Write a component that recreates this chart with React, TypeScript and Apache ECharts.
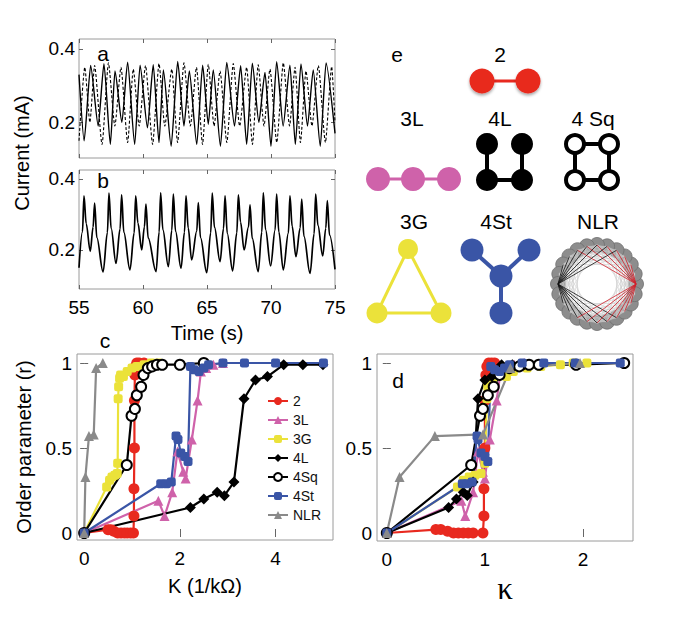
import React, { useEffect, useRef } from 'react';
import * as echarts from 'echarts';

const FONT = '"Liberation Sans", Arial, Helvetica, sans-serif';

// ---------- Panel a: two coupled oscillators (time s, current mA) ----------
const A_SOLID_T = [55.0, 55.4, 55.91, 56.5, 56.95, 57.45, 57.81, 58.35, 58.8, 59.35, 59.77, 60.35, 60.8, 61.25, 61.59, 62.2, 62.71, 63.2, 63.62, 64.2, 64.66, 65.1, 65.49, 66.05, 66.54, 67.15, 67.63, 68.1, 68.54, 69.05, 69.53, 70.0, 70.44, 70.95, 71.48, 71.9, 72.34, 72.85, 73.3, 73.85, 74.3, 75.0];
const A_SOLID_V = [0.33, 0.15, 0.355, 0.19, 0.36, 0.14, 0.34, 0.2, 0.364, 0.14, 0.356, 0.185, 0.357, 0.145, 0.343, 0.135, 0.366, 0.19, 0.34, 0.14, 0.356, 0.195, 0.343, 0.135, 0.363, 0.19, 0.354, 0.14, 0.361, 0.2, 0.336, 0.135, 0.365, 0.19, 0.356, 0.14, 0.359, 0.19, 0.343, 0.135, 0.362, 0.17];
const A_DASH_T = [55.0, 55.45, 55.85, 56.22, 56.8, 57.3, 57.8, 58.28, 58.8, 59.24, 59.7, 60.2, 60.75, 61.25, 61.7, 62.25, 62.7, 63.2, 63.7, 64.18, 64.65, 65.1, 65.55, 66.02, 66.55, 67.05, 67.55, 68.1, 68.55, 69.0, 69.45, 69.92, 70.45, 70.96, 71.45, 71.88, 72.3, 72.73, 73.2, 73.7, 74.25, 74.74, 75.0];
const A_DASH_V = [0.15, 0.35, 0.2, 0.355, 0.14, 0.362, 0.19, 0.35, 0.145, 0.345, 0.19, 0.355, 0.14, 0.36, 0.19, 0.345, 0.145, 0.362, 0.19, 0.35, 0.14, 0.358, 0.19, 0.34, 0.145, 0.36, 0.19, 0.35, 0.14, 0.357, 0.19, 0.345, 0.145, 0.362, 0.19, 0.35, 0.145, 0.34, 0.19, 0.355, 0.145, 0.352, 0.2];

// ---------- Panel b: single oscillator (trough, rising flank, peak, falling flank) ----------
const B_T = [55.0,
  55.27, 55.39, 55.56, 55.88, 56.10, 56.22, 56.39, 56.88, 57.22, 57.34, 57.51, 57.89,
  58.21, 58.33, 58.50, 58.98, 59.31, 59.43, 59.60, 59.9, 60.11, 60.23, 60.40, 61.02,
  61.26, 61.38, 61.55, 61.98, 62.25, 62.37, 62.54, 62.97, 63.24, 63.36, 63.53, 63.8,
  64.20, 64.32, 64.49, 64.98, 65.29, 65.41, 65.58, 66.02, 66.29, 66.41, 66.58, 67.0,
  67.33, 67.45, 67.62, 67.9, 68.24, 68.36, 68.53, 69.0, 69.28, 69.4, 69.57, 69.97,
  70.32, 70.44, 70.61, 70.96, 71.36, 71.48, 71.65, 71.95, 72.28, 72.4, 72.57, 73.05,
  73.37, 73.49, 73.66, 74.04, 74.28, 74.4, 74.57, 75.0];
const B_V = [0.15,
  0.251, 0.352, 0.274, 0.196, 0.264, 0.332, 0.235, 0.138, 0.249, 0.36, 0.261, 0.162,
  0.259, 0.355, 0.25, 0.144, 0.248, 0.352, 0.276, 0.2, 0.265, 0.329, 0.234, 0.139,
  0.25, 0.361, 0.257, 0.153, 0.255, 0.357, 0.253, 0.148, 0.25, 0.352, 0.262, 0.172,
  0.253, 0.333, 0.235, 0.136, 0.248, 0.36, 0.264, 0.167, 0.26, 0.352, 0.247, 0.141,
  0.248, 0.355, 0.278, 0.2, 0.264, 0.327, 0.233, 0.139, 0.25, 0.361, 0.258, 0.155,
  0.256, 0.357, 0.251, 0.144, 0.248, 0.352, 0.267, 0.181, 0.262, 0.343, 0.239, 0.134,
  0.246, 0.357, 0.27, 0.183, 0.261, 0.339, 0.242, 0.145];

// ---------- Panels c/d: order parameter vs coupling ----------
const SERIES_NAMES = ['2', '3L', '3G', '4L', '4Sq', '4St', 'NLR'];

const K_2 = [0, 0.5, 0.56, 0.62, 0.7, 0.77, 0.84, 0.9, 0.97, 1.03, 1.04, 1.04, 1.05, 1.05, 1.06, 1.07, 1.1, 1.15, 1.25];
const KAPPA_2 = [0, 0.5, 0.55, 0.62, 0.68, 0.73, 0.78, 0.83, 0.88, 0.98, 0.99, 0.99, 1.0, 1.0, 1.01, 1.02, 1.04, 1.07, 1.1];
const R_2 = [0, 0.02, 0.02, 0.01, 0, 0, 0, 0, 0, 0, 0.1, 0.26, 0.5, 0.78, 0.93, 0.98, 1, 1, 1];

const K_3L = [0, 1.55, 1.68, 1.84, 1.95, 2.07, 2.12, 2.25, 2.37, 2.44, 2.55, 2.7, 2.9];
const KAPPA_3L = [0, 0.76, 0.8, 0.88, 0.93, 0.98, 1.0, 1.05, 1.12, 1.16, 1.22, 1.3, 1.4];
const R_3L = [0, 0.19, 0.1, 0.24, 0.48, 0.36, 0.32, 0.55, 0.78, 0.95, 0.97, 0.99, 1.0];

const K_3G = [0, 0.47, 0.53, 0.58, 0.64, 0.69, 0.7, 0.71, 0.72, 0.74, 0.76, 0.82, 0.9, 1.0, 1.1, 1.25, 1.4, 1.55];
const KAPPA_3G = [0, 0.72, 0.78, 0.84, 0.9, 0.96, 1.0, 1.02, 1.03, 1.08, 1.15, 1.22, 1.29, 1.43, 1.57, 1.77, 1.9, 2.04];
const R_3G = [0, 0.27, 0.31, 0.33, 0.34, 0.35, 0.41, 0.79, 0.86, 0.91, 0.93, 0.92, 0.95, 0.97, 0.98, 0.99, 1.0, 1.0];

const K_4L = [0, 2.22, 2.5, 2.78, 2.93, 3.13, 3.34, 3.58, 3.83, 4.17, 4.57, 4.99];
const KAPPA_4L = [0, 0.63, 0.71, 0.78, 0.82, 0.88, 0.93, 1.0, 1.07, 1.17, 1.28, 1.4];
const R_4L = [0, 0.15, 0.2, 0.24, 0.22, 0.3, 0.79, 0.9, 0.92, 0.99, 0.99, 0.99];

const K_4SQ = [0, 0.89, 0.99, 1.06, 1.1, 1.19, 1.24, 1.33, 1.42, 1.52, 1.63, 2.0, 2.5];
const KAPPA_4SQ = [0, 0.86, 0.95, 0.98, 1.03, 1.09, 1.15, 1.25, 1.35, 1.45, 1.55, 1.93, 2.42];
const R_4SQ = [0, 0.4, 0.69, 0.73, 0.81, 0.86, 0.93, 0.97, 0.98, 0.99, 0.99, 0.99, 1.0];

const K_4ST = [0, 1.6, 1.72, 1.82, 1.92, 1.96, 2.02, 2.1, 2.17, 2.22, 2.3, 2.4, 2.5, 2.6, 2.9, 3.35, 4.0, 5.0];
const KAPPA_4ST = [0, 0.77, 0.82, 0.87, 0.92, 0.93, 0.96, 1.0, 1.03, 1.06, 1.1, 1.15, 1.2, 1.25, 1.38, 1.6, 1.92, 2.38];
const R_4ST = [0, 0.29, 0.29, 0.3, 0.57, 0.55, 0.47, 0.45, 0.42, 0.98, 0.96, 0.95, 0.97, 0.99, 1.0, 1.0, 1.0, 1.0];

const K_NLR = [0, 0.026, 0.1, 0.2, 0.25, 0.39];
const KAPPA_NLR = [0, 0.13, 0.49, 0.98, 1.26, 1.97];
const R_NLR = [0, 0.33, 0.57, 0.58, 0.97, 1.0];

const TICKS_AB_Y = [0.2, 0.4];
const TICKS_C_X = [0, 2, 4];
const TICKS_D_X = [0, 1, 2];
const TICKS_R = [0, 0.5, 1];

const C_RED = '#e8291f';
const C_PINK = '#cf62aa';
const C_YEL = '#ebe23a';
const C_BLUE = '#3a55a6';
const C_GRAY = '#8a8a8a';

const zip = (xs: number[], ys: number[]) => xs.map((x, i) => [x, ys[i]]);

const STYLE: Record<string, any> = {
  '2': { color: C_RED, symbol: 'circle', size: 11 },
  '3L': { color: C_PINK, symbol: 'triangle', size: 10 },
  '3G': { color: C_YEL, symbol: 'roundRect', size: 9 },
  '4L': { color: '#000', symbol: 'diamond', size: 11 },
  '4Sq': { color: '#000', symbol: 'circle', size: 10, open: true },
  '4St': { color: C_BLUE, symbol: 'roundRect', size: 9 },
  NLR: { color: C_GRAY, symbol: 'triangle', size: 10 },
};

const C_DATA: Record<string, number[][]> = {
  '2': zip(K_2, R_2),
  '3L': zip(K_3L, R_3L),
  '3G': zip(K_3G, R_3G),
  '4L': zip(K_4L, R_4L),
  '4Sq': zip(K_4SQ, R_4SQ),
  '4St': zip(K_4ST, R_4ST),
  NLR: zip(K_NLR, R_NLR),
};
const D_DATA: Record<string, number[][]> = {
  '2': zip(KAPPA_2, R_2),
  '3L': zip(KAPPA_3L, R_3L),
  '3G': zip(KAPPA_3G, R_3G),
  '4L': zip(KAPPA_4L, R_4L),
  '4Sq': zip(KAPPA_4SQ, R_4SQ),
  '4St': zip(KAPPA_4ST, R_4ST),
  NLR: zip(KAPPA_NLR, R_NLR),
};

const tick = { show: true, inside: true, length: 4, lineStyle: { color: '#666', width: 1 } };
const labelStyle = { color: '#000', fontSize: 19, fontFamily: FONT };

function xAxis(gridIndex: number, min: number, max: number, opts: any = {}) {
  const { custom, interval, showLabel, top, name, nameGap, nameFont, nameSize } = opts;
  const ax: any = {
    type: 'value',
    gridIndex,
    min,
    max,
    position: top ? 'top' : 'bottom',
    axisLine: { show: false },
    splitLine: { show: false },
    axisTick: { ...tick },
    axisLabel: { show: !!showLabel, margin: 9, ...labelStyle },
  };
  if (interval) ax.interval = interval;
  if (custom) {
    ax.axisTick.customValues = custom;
    ax.axisLabel.customValues = custom;
  }
  if (name) {
    ax.name = name;
    ax.nameLocation = 'middle';
    ax.nameGap = nameGap;
    ax.nameTextStyle = { color: '#000', fontSize: nameSize || 20, fontFamily: nameFont || FONT };
  }
  return ax;
}

function yAxis(gridIndex: number, min: number, max: number, custom: number[], opts: any = {}) {
  const { showLabel, right, name, nameGap, margin } = opts;
  const ax: any = {
    type: 'value',
    gridIndex,
    min,
    max,
    position: right ? 'right' : 'left',
    axisLine: { show: false },
    splitLine: { show: false },
    axisTick: { ...tick, customValues: custom },
    axisLabel: { show: !!showLabel, margin: margin ?? 5, customValues: custom, ...labelStyle },
  };
  if (name) {
    ax.name = name;
    ax.nameLocation = 'middle';
    ax.nameGap = nameGap;
    ax.nameRotate = 90;
    ax.nameTextStyle = { color: '#000', fontSize: 20, fontFamily: FONT };
  }
  return ax;
}

function orderSeries(name: string, data: number[][], xi: number, yi: number) {
  const s = STYLE[name];
  return {
    type: 'line',
    name,
    xAxisIndex: xi,
    yAxisIndex: yi,
    data,
    symbol: s.symbol,
    symbolSize: s.size,
    showSymbol: true,
    lineStyle: { color: s.color, width: 2.2 },
    itemStyle: s.open
      ? { color: '#fff', borderColor: '#000', borderWidth: 2 }
      : { color: s.color, borderColor: s.color, borderWidth: 0 },
    emphasis: { disabled: true },
  };
}

function text(str: string, x: number, y: number, size: number, extra: any = {}) {
  return {
    type: 'text',
    x,
    y,
    rotation: extra.rotation || 0,
    style: {
      text: str,
      font: `${size}px ${extra.family || FONT}`,
      fill: '#000',
      align: 'center',
      verticalAlign: 'middle',
    },
    z: 100,
  };
}

function circle(cx: number, cy: number, r: number, fill: string, extra: any = {}) {
  return { type: 'circle', shape: { cx, cy, r }, style: { fill, ...extra }, z: 102 };
}
function seg(x1: number, y1: number, x2: number, y2: number, stroke: string, w: number, z = 101) {
  return { type: 'line', shape: { x1, y1, x2, y2 }, style: { stroke, lineWidth: w }, z };
}

function panelE() {
  const els: any[] = [];
  els.push(text('e', 397, 54, 21));
  // 2
  els.push(text('2', 500, 54, 21));
  els.push(seg(482, 81, 528, 81, C_RED, 3));
  const shadow = { shadowBlur: 3, shadowColor: 'rgba(0,0,0,0.35)', shadowOffsetY: 2 };
  els.push(circle(482, 81, 12.5, C_RED, shadow));
  els.push(circle(528, 81, 12.5, C_RED, shadow));
  // 3L
  els.push(text('3L', 412, 118, 21));
  els.push(seg(378, 179, 449, 179, C_PINK, 3));
  [378, 413, 449].forEach((x) => els.push(circle(x, 179, 12, C_PINK)));
  // 4L
  els.push(text('4L', 500, 118, 21));
  els.push(seg(487, 144, 487, 180, '#000', 4));
  els.push(seg(487, 180, 522, 180, '#000', 4));
  els.push(seg(522, 180, 522, 144, '#000', 4));
  [[487, 144], [522, 144], [487, 180], [522, 180]].forEach(([x, y]) => els.push(circle(x, y, 11, '#000')));
  // 4 Sq
  els.push(text('4 Sq', 593, 118, 21));
  els.push({ type: 'polygon', shape: { points: [[575, 144], [609, 144], [609, 180], [575, 180]] }, style: { fill: 'none', stroke: '#000', lineWidth: 4 }, z: 101 });
  [[575, 144], [609, 144], [575, 180], [609, 180]].forEach(([x, y]) =>
    els.push(circle(x, y, 9, '#fff', { stroke: '#000', lineWidth: 4 }))
  );
  // 3G
  els.push(text('3G', 414, 221, 21));
  els.push({ type: 'polygon', shape: { points: [[408, 249], [377, 313], [441, 313]] }, style: { fill: 'none', stroke: C_YEL, lineWidth: 3 }, z: 101 });
  els.push(circle(408, 249, 10, C_YEL));
  els.push(circle(377, 313, 10.5, C_YEL));
  els.push(circle(441, 313, 10.5, C_YEL));
  // 4St
  els.push(text('4St', 496, 221, 21));
  els.push(seg(501, 276, 472, 250, C_BLUE, 4));
  els.push(seg(501, 276, 529, 250, C_BLUE, 4));
  els.push(seg(501, 276, 501, 313, C_BLUE, 4));
  [[472, 250], [529, 250], [501, 276], [501, 313]].forEach(([x, y]) => els.push(circle(x, y, 11.5, C_BLUE)));
  // NLR ring
  els.push(text('NLR', 598, 221, 21));
  const N = 24;
  const cx = 597;
  const cy = 284;
  const R = 39;
  const pos = Array.from({ length: N }, (_, i) => {
    const a = (2 * Math.PI * i) / N;
    return [cx + R * Math.cos(a), cy - R * Math.sin(a)];
  });
  pos.forEach(([x, y]) => els.push({ type: 'circle', shape: { cx: x, cy: y, r: 7.5 }, style: { fill: '#8d8d8d', stroke: '#6e6e6e', lineWidth: 0.8 }, z: 101 }));
  for (let i = 0; i < N; i++) {
    for (let k = 2; k <= 8; k++) {
      const j = (i + k) % N;
      let color = '#c8c8c8';
      let w = 0.5;
      let z = 103;
      if (i === 12 || j === 12) { color = '#111'; w = 0.8; z = 104; }
      if (i === 0 || j === 0) { color = '#d0202a'; w = 0.8; z = 104; }
      els.push({ type: 'line', shape: { x1: pos[i][0], y1: pos[i][1], x2: pos[j][0], y2: pos[j][1] }, style: { stroke: color, lineWidth: w }, z });
    }
  }
  return els;
}

function buildOption() {
  const frame = { show: true, borderColor: '#9a9a9a', borderWidth: 1, backgroundColor: 'transparent' };
  const grid = [
    { left: 79, top: 39, width: 256, height: 119, ...frame, outerBoundsMode: 'none' },
    { left: 79, top: 170, width: 256, height: 119, ...frame, outerBoundsMode: 'none' },
    { left: 77, top: 354, width: 256, height: 186, ...frame, outerBoundsMode: 'none' },
    { left: 377, top: 354, width: 256, height: 187, ...frame, outerBoundsMode: 'none' },
  ];
  const xAxes = [
    xAxis(0, 55, 75, { interval: 5 }),
    xAxis(0, 55, 75, { interval: 5, top: true }),
    xAxis(1, 55, 75, { interval: 5, showLabel: true, name: 'Time (s)', nameGap: 34 }),
    xAxis(1, 55, 75, { interval: 5, top: true }),
    xAxis(2, -0.15, 5.2, { custom: TICKS_C_X, showLabel: true, name: 'K (1/kΩ)', nameGap: 36 }),
    xAxis(2, -0.15, 5.2, { custom: TICKS_C_X, top: true }),
    xAxis(3, -0.1, 2.51, { custom: TICKS_D_X, showLabel: true, name: 'κ', nameGap: 32, nameFont: '"Liberation Serif", "Times New Roman", serif', nameSize: 31 }),
    xAxis(3, -0.1, 2.51, { custom: TICKS_D_X, top: true }),
  ];
  const yAxes = [
    yAxis(0, 0.103, 0.427, TICKS_AB_Y, { showLabel: true, margin: 4 }),
    yAxis(0, 0.103, 0.427, TICKS_AB_Y, { right: true }),
    yAxis(1, 0.09, 0.425, TICKS_AB_Y, { showLabel: true, margin: 4 }),
    yAxis(1, 0.09, 0.425, TICKS_AB_Y, { right: true }),
    yAxis(2, -0.041, 1.053, TICKS_R, { showLabel: true, name: 'Order parameter (r)', nameGap: 43 }),
    yAxis(2, -0.041, 1.053, TICKS_R, { right: true }),
    yAxis(3, -0.047, 1.053, TICKS_R, { showLabel: true }),
    yAxis(3, -0.047, 1.053, TICKS_R, { right: true }),
  ];

  const series: any[] = [
    {
      type: 'line', name: 'a-solid', xAxisIndex: 0, yAxisIndex: 0, data: zip(A_SOLID_T, A_SOLID_V),
      showSymbol: false, smooth: 0.2, smoothMonotone: 'x', lineStyle: { color: '#000', width: 1.4 }, emphasis: { disabled: true },
    },
    {
      type: 'line', name: 'a-dashed', xAxisIndex: 0, yAxisIndex: 0, data: zip(A_DASH_T, A_DASH_V),
      showSymbol: false, smooth: 0.2, smoothMonotone: 'x', lineStyle: { color: '#000', width: 1.1, type: [3, 2] }, emphasis: { disabled: true },
    },
    {
      type: 'line', name: 'b', xAxisIndex: 2, yAxisIndex: 2, data: zip(B_T, B_V),
      showSymbol: false, smooth: 0.35, smoothMonotone: 'x', lineStyle: { color: '#000', width: 1.7 }, emphasis: { disabled: true },
    },
  ];
  SERIES_NAMES.forEach((n) => series.push(orderSeries(n, C_DATA[n], 4, 4)));
  SERIES_NAMES.forEach((n) => series.push(orderSeries(n, D_DATA[n], 6, 6)));

  const graphic: any[] = [
    text('Current (mA)', 22, 153, 20, { rotation: Math.PI / 2 }),
    text('a', 103, 53, 21),
    text('b', 103, 180, 21),
    text('c', 105, 340, 21),
    text('d', 398, 380, 21),
    ...panelE(),
  ];

  return {
    animation: false,
    backgroundColor: '#fff',
    textStyle: { fontFamily: FONT },
    grid,
    xAxis: xAxes,
    yAxis: yAxes,
    legend: {
      data: SERIES_NAMES,
      orient: 'vertical',
      left: 262,
      top: 389,
      itemWidth: 20,
      itemHeight: 10,
      itemGap: 5,
      selectedMode: false,
      textStyle: { color: '#111', fontSize: 14, fontFamily: FONT, lineHeight: 14 },
    },
    series,
    graphic,
  };
}

export default function App() {
  const ref = useRef<HTMLDivElement>(null);
  useEffect(() => {
    if (!ref.current) return;
    const chart = echarts.init(ref.current, null, { renderer: 'svg' });
    chart.setOption(buildOption() as any);
    return () => chart.dispose();
  }, []);
  return (
    <div
      ref={ref}
      style={{ position: 'absolute', left: 0, top: 0, width: 683, height: 620, background: '#fff' }}
    />
  );
}
